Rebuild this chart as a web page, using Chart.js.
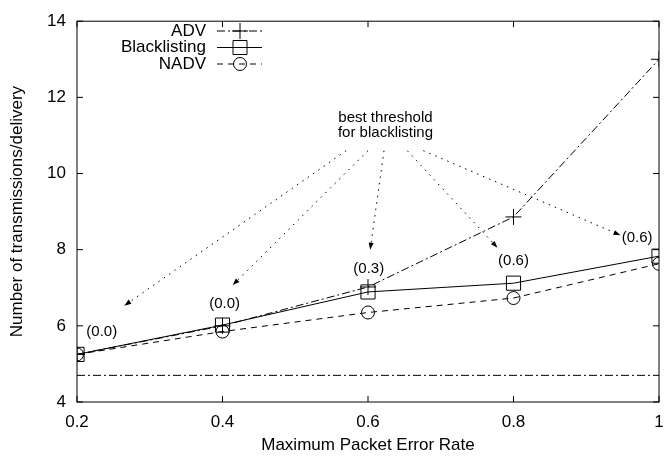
<!DOCTYPE html>
<html>
<head>
<meta charset="utf-8">
<script src="https://cdn.jsdelivr.net/npm/chart.js@4/dist/chart.umd.min.js"></script>
<style>
  html, body { margin: 0; padding: 0; background: #fff; }
  #wrap { width: 670px; height: 456px; }
</style>
</head>
<body>
<div id="wrap"><canvas id="myChart"></canvas></div>
<script>
// values
const errorRates = [0.2, 0.4, 0.6, 0.8, 1.0];
const advValues = [5.25, 6.0, 7.02, 8.86, 13.0];
const blacklistValues = [5.25, 6.02, 6.89, 7.12, 7.83];
const nadvValues = [5.25, 5.85, 6.35, 6.73, 7.63];
const baselineValue = 4.7;
const xTicks = [0.2, 0.4, 0.6, 0.8, 1.0];
const yTicks = [4, 6, 8, 10, 12, 14];
const thresholdLabels = ['(0.0)', '(0.0)', '(0.3)', '(0.6)', '(0.6)'];

// annotation anchors in data units
const labelAt = [[0.234, 5.83], [0.403, 6.58], [0.601, 7.5], [0.800, 7.71], [0.970, 8.30]];
const arrowFrom = [[0.570, 10.6], [0.600, 10.6], [0.622, 10.6], [0.654, 10.6], [0.676, 10.6]];
const arrowTo = [[0.265, 6.53], [0.414, 7.07], [0.603, 8.0], [0.778, 8.05], [0.947, 8.38]];

const FONT = '"Liberation Sans", Arial, sans-serif';
const dashDot = [8, 3, 2, 3];
const dashed = [6, 5];

function pts(ys) {
    return errorRates.map((x, i) => ({ x: x, y: ys[i] }));
}

// frame, inward ticks, legend and annotations
const decor = {
    id: 'decor',
    afterDatasetsDraw(chart) {
        const ctx = chart.ctx;
        const a = chart.chartArea;
        const xs = chart.scales.x, ys = chart.scales.y;
        ctx.save();
        ctx.strokeStyle = '#000';
        ctx.lineWidth = 1;
        ctx.setLineDash([]);
        ctx.strokeRect(a.left, a.top, a.right - a.left, a.bottom - a.top);
        ctx.beginPath();
        xTicks.forEach(v => {
            const p = xs.getPixelForValue(v);
            ctx.moveTo(p, a.bottom); ctx.lineTo(p, a.bottom - 6);
            ctx.moveTo(p, a.top); ctx.lineTo(p, a.top + 6);
        });
        yTicks.forEach(v => {
            const p = ys.getPixelForValue(v);
            ctx.moveTo(a.left, p); ctx.lineTo(a.left + 6, p);
            ctx.moveTo(a.right, p); ctx.lineTo(a.right - 6, p);
        });
        ctx.stroke();

        // annotation text
        ctx.fillStyle = '#000';
        ctx.font = '15px ' + FONT;
        ctx.textAlign = 'center';
        ctx.textBaseline = 'middle';
        const cx = xs.getPixelForValue(0.624);
        ctx.fillText('best threshold', cx, ys.getPixelForValue(11.45));
        ctx.fillText('for blacklisting', cx, ys.getPixelForValue(11.06));
        thresholdLabels.forEach((t, i) => {
            ctx.fillText(t, xs.getPixelForValue(labelAt[i][0]), ys.getPixelForValue(labelAt[i][1]));
        });

        // dotted arrows
        arrowFrom.forEach((f, i) => {
            const x0 = xs.getPixelForValue(f[0]), y0 = ys.getPixelForValue(f[1]);
            const x1 = xs.getPixelForValue(arrowTo[i][0]), y1 = ys.getPixelForValue(arrowTo[i][1]);
            const ang = Math.atan2(y1 - y0, x1 - x0);
            ctx.setLineDash([1.5, 5]);
            ctx.beginPath();
            ctx.moveTo(x0, y0);
            ctx.lineTo(x1 - 5 * Math.cos(ang), y1 - 5 * Math.sin(ang));
            ctx.stroke();
            ctx.setLineDash([]);
            ctx.beginPath();
            ctx.moveTo(x1, y1);
            ctx.lineTo(x1 - 7 * Math.cos(ang) + 2.5 * Math.sin(ang), y1 - 7 * Math.sin(ang) - 2.5 * Math.cos(ang));
            ctx.lineTo(x1 - 7 * Math.cos(ang) - 2.5 * Math.sin(ang), y1 - 7 * Math.sin(ang) + 2.5 * Math.cos(ang));
            ctx.closePath();
            ctx.fill();
        });

        // legend
        ctx.font = '17px ' + FONT;
        ctx.textAlign = 'right';
        const rows = [
            { text: 'ADV', dash: dashDot, mark: 'plus' },
            { text: 'Blacklisting', dash: [], mark: 'box' },
            { text: 'NADV', dash: dashed, mark: 'circle' }
        ];
        rows.forEach((r, i) => {
            const y = 31 + i * 16.5;
            ctx.fillText(r.text, 206, y);
            ctx.setLineDash(r.dash);
            ctx.beginPath();
            ctx.moveTo(217, y); ctx.lineTo(262, y);
            ctx.stroke();
            ctx.setLineDash([]);
            ctx.beginPath();
            if (r.mark === 'plus') {
                ctx.moveTo(232, y); ctx.lineTo(248, y);
                ctx.moveTo(240, y - 8); ctx.lineTo(240, y + 8);
            } else if (r.mark === 'box') {
                ctx.rect(233, y - 7, 14, 14);
            } else {
                ctx.arc(240, y, 6.5, 0, Math.PI * 2);
            }
            ctx.stroke();
        });
        ctx.restore();
    }
};

const ctx = document.getElementById('myChart');

new Chart(ctx, {
    type: 'line',
    data: {
        datasets: [{
            label: 'ADV',
            data: pts(advValues),
            borderColor: '#000',
            borderWidth: 1,
            borderDash: dashDot,
            pointStyle: 'cross',
            pointRadius: 8,
            pointBorderWidth: 1,
            pointBorderColor: '#000',
            pointBackgroundColor: 'transparent'
        }, {
            label: 'Blacklisting',
            data: pts(blacklistValues),
            borderColor: '#000',
            borderWidth: 1,
            pointStyle: 'rect',
            pointRadius: 10,
            pointBorderWidth: 1,
            pointBorderColor: '#000',
            pointBackgroundColor: 'transparent'
        }, {
            label: 'NADV',
            data: pts(nadvValues),
            borderColor: '#000',
            borderWidth: 1,
            borderDash: dashed,
            pointStyle: 'circle',
            pointRadius: 6.5,
            pointBorderWidth: 1,
            pointBorderColor: '#000',
            pointBackgroundColor: 'transparent'
        }, {
            label: 'baseline',
            data: [{ x: xTicks[0], y: baselineValue }, { x: xTicks[xTicks.length - 1], y: baselineValue }],
            borderColor: '#000',
            borderWidth: 1,
            borderDash: dashDot,
            pointRadius: 0
        }]
    },
    options: {
        responsive: true,
        maintainAspectRatio: false,
        animation: false,
        layout: { padding: { top: 14, right: 3 } },
        plugins: {
            legend: { display: false },
            tooltip: { enabled: false }
        },
        scales: {
            x: {
                type: 'linear',
                min: 0.2,
                max: 1,
                grid: { display: false, drawTicks: false },
                border: { display: false },
                afterBuildTicks: s => { s.ticks = xTicks.map(v => ({ value: v })); },
                afterFit: s => { s.height = 54; s.paddingRight = 0; },
                ticks: {
                    color: '#000',
                    padding: 10,
                    maxRotation: 0,
                    font: { family: FONT, size: 17 },
                    callback: v => (v === 1 ? '1' : v.toFixed(1))
                },
                title: {
                    display: true,
                    text: 'Maximum Packet Error Rate',
                    color: '#000',
                    padding: { top: 0, bottom: 0 },
                    font: { family: FONT, size: 17 }
                }
            },
            y: {
                min: 4,
                max: 14,
                grid: { display: false, drawTicks: false },
                border: { display: false },
                afterBuildTicks: s => { s.ticks = yTicks.map(v => ({ value: v })); },
                afterFit: s => { s.width = 77; },
                ticks: {
                    color: '#000',
                    padding: 11,
                    font: { family: FONT, size: 17 }
                },
                title: {
                    display: true,
                    text: 'Number of transmissions/delivery',
                    color: '#000',
                    padding: { top: 7, bottom: 0 },
                    font: { family: FONT, size: 17 }
                }
            }
        }
    },
    plugins: [decor]
});
</script>
</body>
</html>
